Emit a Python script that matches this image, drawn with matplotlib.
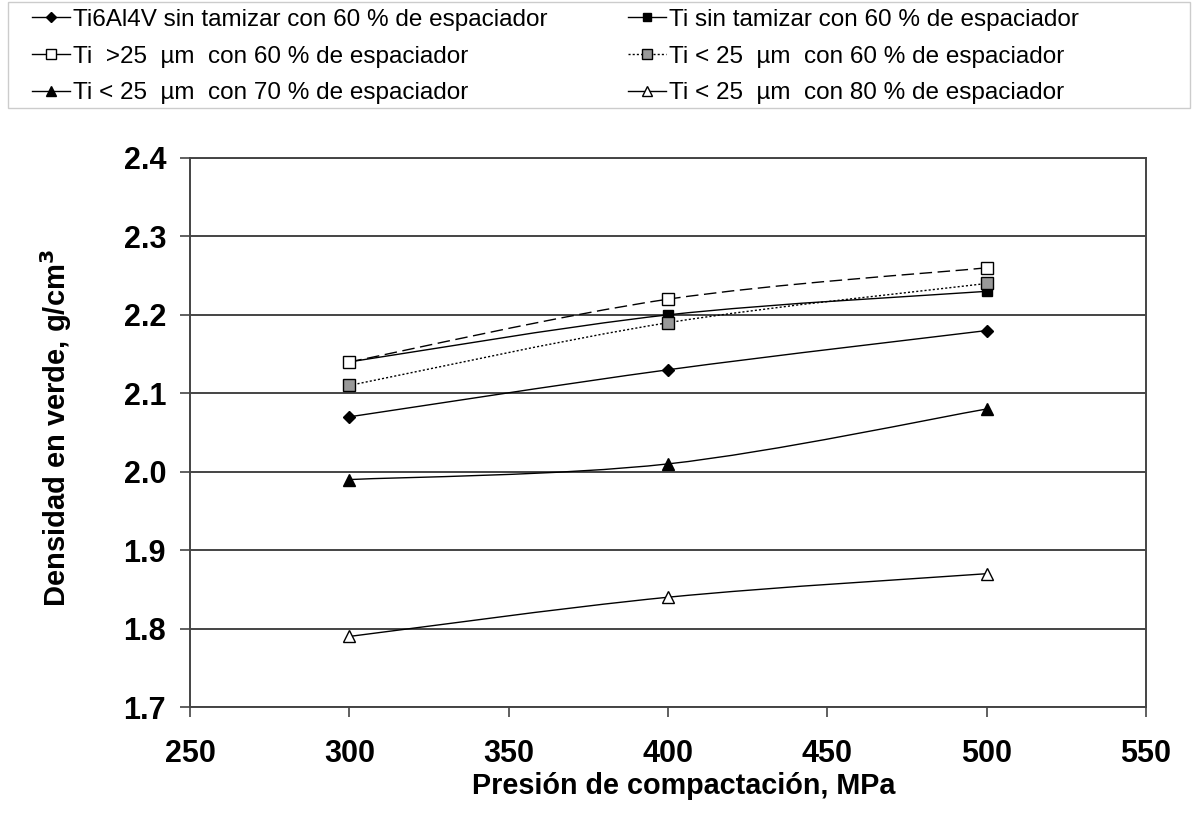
import matplotlib
matplotlib.use("Agg")
import matplotlib.pyplot as plt
from matplotlib.path import Path
from matplotlib.patches import PathPatch, Rectangle
from matplotlib.lines import Line2D
import numpy as np

plt.rcParams['font.family'] = ['Liberation Sans', 'DejaVu Sans']

pressure = [300, 400, 500]
labels = [
    "Ti6Al4V sin tamizar con 60 % de espaciador",
    "Ti sin tamizar con 60 % de espaciador",
    "Ti  >25  \u00b5m  con 60 % de espaciador",
    "Ti < 25  \u00b5m  con 60 % de espaciador",
    "Ti < 25  \u00b5m  con 70 % de espaciador",
    "Ti < 25  \u00b5m  con 80 % de espaciador",
]
ti6al4v = [2.07, 2.13, 2.18]
ti_sin = [2.14, 2.20, 2.23]
ti_gt25 = [2.14, 2.22, 2.26]
ti_lt25_60 = [2.11, 2.19, 2.24]
ti_lt25_70 = [1.99, 2.01, 2.08]
ti_lt25_80 = [1.79, 1.84, 1.87]
series = [ti6al4v, ti_sin, ti_gt25, ti_lt25_60, ti_lt25_70, ti_lt25_80]

styles = [
    dict(marker='D', mfc='black', ls='-', ms=6),
    dict(marker='s', mfc='black', ls='-', ms=7),
    dict(marker='s', mfc='white', ls=(0, (9, 4)), ms=8),
    dict(marker='s', mfc='#999999', ls=(0, (1.5, 1.5)), ms=8),
    dict(marker='^', mfc='black', ls='-', ms=8),
    dict(marker='^', mfc='white', ls='-', ms=8),
]
legend_ls = ['-', '-', '-', (0, (1.5, 1.5)), '-', '-']

fig = plt.figure(figsize=(11.92, 8.14), dpi=100)
ax = fig.add_axes([0.1594, 0.1314, 0.802, 0.6745])


def smooth_path(x, y):
    # Excel-style smoothed line: Bezier segments with Catmull-Rom control points
    px = [x[0]] + list(x) + [x[-1]]
    py = [y[0]] + list(y) + [y[-1]]
    verts = [(x[0], y[0])]
    codes = [Path.MOVETO]
    for i in range(1, len(px) - 2):
        c1 = (px[i] + (px[i + 1] - px[i - 1]) / 6, py[i] + (py[i + 1] - py[i - 1]) / 6)
        c2 = (px[i + 1] - (px[i + 2] - px[i]) / 6, py[i + 1] - (py[i + 2] - py[i]) / 6)
        verts += [c1, c2, (px[i + 1], py[i + 1])]
        codes += [Path.CURVE4] * 3
    return Path(verts, codes)


for vals, st in zip(series, styles):
    patch = PathPatch(smooth_path(pressure, vals), facecolor='none', edgecolor='black',
                      lw=1.0, linestyle=st['ls'], zorder=3)
    ax.add_patch(patch)
    ax.plot(pressure, vals, linestyle='none', marker=st['marker'], ms=st['ms'],
            mfc=st['mfc'], mec='black', mew=1.0, zorder=4)

ax.set_xlim(250, 550)
ax.set_ylim(1.7, 2.4)
ax.set_xticks([250, 300, 350, 400, 450, 500, 550])
ax.set_yticks(np.arange(1.7, 2.41, 0.1))
ax.set_yticklabels([f"{v:.1f}" for v in np.arange(1.7, 2.41, 0.1)])
ax.yaxis.grid(True, color='#444444', lw=1.4)
ax.set_axisbelow(True)
for s in ax.spines.values():
    s.set_color('#444444')
    s.set_linewidth(1.4)
ax.tick_params(axis='both', direction='out', length=7.2, width=1.2, color='#444444',
               labelsize=22)
ax.tick_params(axis='x', pad=16)
ax.tick_params(axis='y', pad=10)
for lab in ax.get_xticklabels() + ax.get_yticklabels():
    lab.set_fontweight('bold')
ax.set_xlabel("Presión de compactación, MPa", fontsize=20.7, fontweight='bold')
ax.xaxis.set_label_coords(0.5167, -0.118)
ax.set_ylabel("Densidad en verde, g/cm$^\\mathbf{3}$", fontsize=21, fontweight='bold')
ax.yaxis.set_label_coords(-0.121, 0.509)

handles = []
for st, lls in zip(styles, legend_ls):
    handles.append(Line2D([], [], color='black', lw=1.0, ls=lls, marker=st['marker'],
                          ms=st['ms'] - 1, mfc=st['mfc'], mec='black', mew=1.0))
order = [0, 2, 4, 1, 3, 5]
leg = fig.legend([handles[i] for i in order], [labels[i] for i in order],
                 loc='upper left', bbox_to_anchor=(0.0268, 0.989),
                 ncol=2, fontsize=17.5, frameon=False,
                 handlelength=1.55, handletextpad=0.15, labelspacing=0.6,
                 columnspacing=3.3, borderpad=0.0, borderaxespad=0.0)
fig.add_artist(Rectangle((8 / 1192, 1 - 108 / 814), 1182 / 1192, 106 / 814,
                         transform=fig.transFigure, fill=False, edgecolor='#cccccc', lw=1.0))

fig.savefig("out.png", dpi=100, facecolor='white')
